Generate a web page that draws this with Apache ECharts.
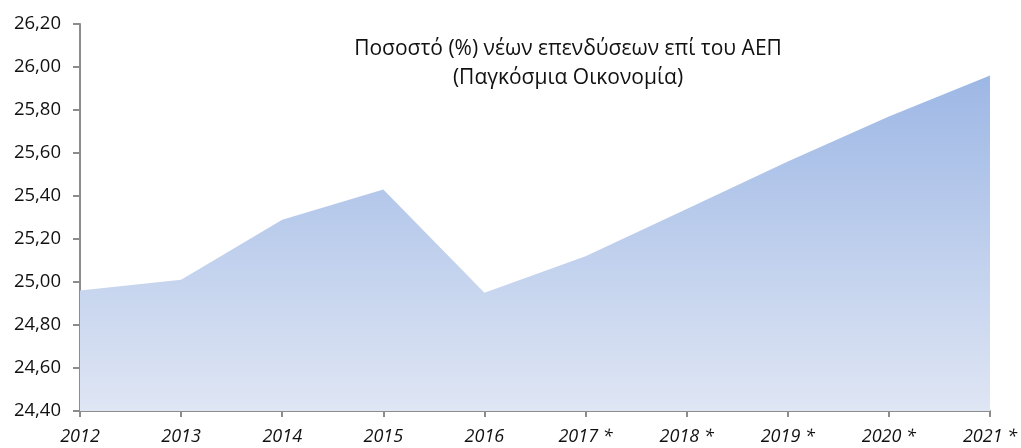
<!DOCTYPE html>
<html>
<head>
<meta charset="utf-8">
<script src="https://cdn.jsdelivr.net/npm/echarts@6/dist/echarts.min.js"></script>
<style>
    html, body { margin: 0; padding: 0; background: #fff; }
    #main { width: 1021px; height: 448px; }
</style>
</head>
<body>
<div id="main"></div>
<script>
    // δεδομένα
    var years = ['2012', '2013', '2014', '2015', '2016', '2017 *', '2018 *', '2019 *', '2020 *', '2021 *'];
    var values = [24.96, 25.01, 25.29, 25.43, 24.95, 25.12, 25.34, 25.56, 25.77, 25.96];
    var titleLines = ['Ποσοστό (%) νέων επενδύσεων επί του ΑΕΠ', '(Παγκόσμια Οικονομία)'];

    var myChart = echarts.init(document.getElementById('main'));
    var font = '"Open Sans", "Noto Sans", sans-serif';

    var option = {
        animation: false,
        title: {
            text: titleLines.join('\n'),
            left: 563,
            top: 30,
            textAlign: 'center',
            textStyle: {
                fontFamily: font,
                fontSize: 21,
                fontWeight: 'normal',
                color: '#111',
                lineHeight: 29
            }
        },
        grid: { left: 80, right: 31, top: 24, bottom: 37 },
        xAxis: {
            type: 'category',
            data: years,
            boundaryGap: false,
            axisLine: { lineStyle: { color: '#8c8c8c', width: 2 } },
            axisTick: { show: true, length: 6, alignWithLabel: true, lineStyle: { color: '#8c8c8c', width: 2 } },
            axisLabel: {
                color: '#111',
                fontFamily: font,
                fontSize: 18,
                fontStyle: 'italic',
                margin: 17,
                interval: 0
            },
            splitLine: { show: false }
        },
        yAxis: {
            type: 'value',
            min: 24.4,
            max: 26.2,
            interval: 0.2,
            axisLine: { show: true, lineStyle: { color: '#8c8c8c', width: 2 } },
            axisTick: { show: true, length: 7, lineStyle: { color: '#8c8c8c', width: 2 } },
            axisLabel: {
                color: '#111',
                fontFamily: font,
                fontSize: 18.5,
                margin: 19,
                formatter: function (v) {
                    return v.toFixed(2).replace('.', ',');
                }
            },
            splitLine: { show: false }
        },
        series: [{
            type: 'line',
            data: values,
            symbol: 'none',
            lineStyle: { width: 0 },
            areaStyle: {
                opacity: 1,
                color: new echarts.graphic.LinearGradient(0, 0, 0, 1, [
                    { offset: 0, color: '#9db7e5' },
                    { offset: 1, color: '#dfe6f4' }
                ])
            }
        }]
    };
    myChart.setOption(option);
</script>
</body>
</html>
